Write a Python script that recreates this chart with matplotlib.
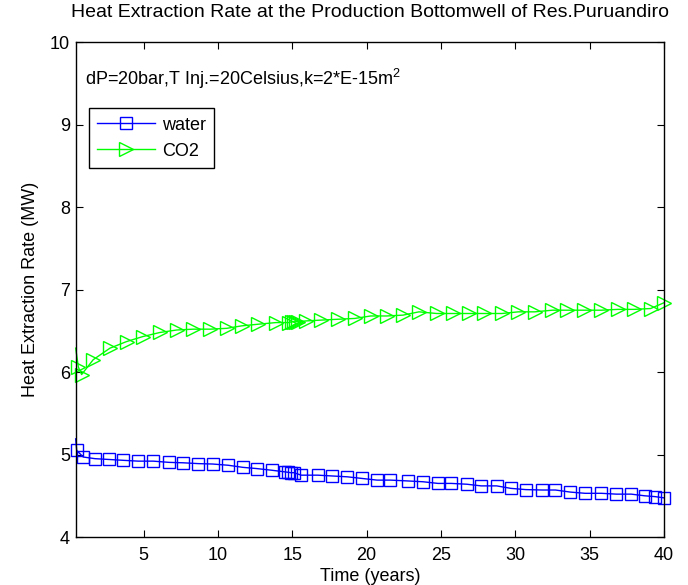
import matplotlib
matplotlib.use('Agg')
import matplotlib.pyplot as plt

# ---------------- data ----------------
t_water = [0.42, 0.49, 0.93, 1.72, 2.68, 3.62, 4.63, 5.64, 6.72, 7.66, 8.67, 9.64,
           10.69, 11.66, 12.6, 13.6, 14.5, 14.7, 14.9, 15.1, 15.6, 16.7, 17.7,
           18.7, 19.7, 20.7, 21.6, 22.75, 23.8, 24.8, 25.7, 26.75, 27.7, 28.75,
           29.7, 30.7, 31.8, 32.7, 33.7, 34.7, 35.8, 36.8, 37.8, 38.7, 39.4, 40.0]
q_water = [5.19, 5.05, 4.97, 4.95, 4.94, 4.93, 4.92, 4.92, 4.905, 4.90, 4.89, 4.885,
           4.87, 4.845, 4.83, 4.81, 4.79, 4.785, 4.78, 4.78, 4.75, 4.75, 4.74,
           4.73, 4.71, 4.69, 4.69, 4.68, 4.67, 4.65, 4.65, 4.64, 4.62, 4.62,
           4.59, 4.575, 4.57, 4.57, 4.545, 4.53, 4.53, 4.52, 4.52, 4.50, 4.49, 4.475]

t_co2 = [0.42, 0.6, 0.82, 1.6, 2.73, 3.85, 4.93, 6.09, 7.22, 8.33, 9.46, 10.58,
         11.59, 12.7, 13.9, 14.75, 14.95, 15.1, 15.25, 15.4, 15.92, 16.93, 18.05,
         19.2, 20.27, 21.35, 22.44, 23.52, 24.71, 25.8, 26.9, 27.9, 29.1, 30.2,
         31.3, 32.5, 33.5, 34.6, 35.8, 36.9, 38.0, 39.1, 40.0]
q_co2 = [6.29, 6.06, 5.97, 6.15, 6.29, 6.37, 6.43, 6.48, 6.51, 6.52, 6.52, 6.53,
         6.56, 6.58, 6.60, 6.60, 6.61, 6.61, 6.61, 6.61, 6.62, 6.63, 6.64,
         6.65, 6.68, 6.68, 6.69, 6.73, 6.71, 6.71, 6.71, 6.71, 6.71, 6.73,
         6.73, 6.75, 6.75, 6.75, 6.75, 6.76, 6.76, 6.77, 6.84]

x_ticks = [5, 10, 15, 20, 25, 30, 35, 40]
y_ticks = [4, 5, 6, 7, 8, 9, 10]

##################### Plotting #####################
f_size = 13
plt.rcParams['font.family'] = ['Liberation Sans', 'DejaVu Sans']
plt.rcParams['font.size'] = f_size
plt.rcParams['mathtext.fontset'] = 'custom'
plt.rcParams['mathtext.rm'] = 'Liberation Sans'
plt.rcParams['mathtext.it'] = 'Liberation Sans'

fig = plt.figure(figsize=(6.88, 5.85), dpi=100)
ax = fig.add_axes([0.110, 0.082, 0.855, 0.846])

# first point sits on the axis edge, MATLAB shows no marker for it
ax.plot(t_water, q_water, color='#0000FF', linewidth=1.0, marker='s', markersize=8,
        markerfacecolor='none', markeredgewidth=1.0, markevery=slice(1, None),
        label='water', clip_on=False)
ax.plot(t_co2, q_co2, color='#00FF00', linewidth=1.0, marker='>', markersize=9.5,
        markerfacecolor='none', markeredgewidth=1.0, markevery=slice(1, None),
        label='CO2', clip_on=False)

ax.set_xlim(t_water[0], 40)
ax.set_ylim(4, 10)
ax.set_xticks(x_ticks)
ax.set_yticks(y_ticks)
ax.tick_params(direction='in', length=5, width=0.8, top=True, right=True,
               labelsize=f_size, colors='black', pad=4)
ax.tick_params(axis='x', pad=7)
for s in ax.spines.values():
    s.set_linewidth(1.0)

ax.set_xlabel('Time (years)', fontsize=f_size, labelpad=3)
ax.set_ylabel('Heat Extraction Rate (MW)', fontsize=f_size, labelpad=8)
ax.set_title('Heat Extraction Rate at the Production Bottomwell of Res.Puruandiro',
             fontsize=14, pad=18)

ax.text(0.016, 0.925, 'dP=20bar,T Inj.=20Celsius,k=2*E-15m$^2$',
        transform=ax.transAxes, ha='left', va='center', fontsize=f_size)

leg = ax.legend(loc='upper left', bbox_to_anchor=(0.023, 0.866), fontsize=f_size,
                handlelength=3.2, handletextpad=0.4, borderpad=0.45,
                labelspacing=0.5, fancybox=False, framealpha=1,
                borderaxespad=0, numpoints=1)
leg.get_frame().set_edgecolor('black')
leg.get_frame().set_linewidth(1.0)

fig.savefig('out.png', dpi=100)
